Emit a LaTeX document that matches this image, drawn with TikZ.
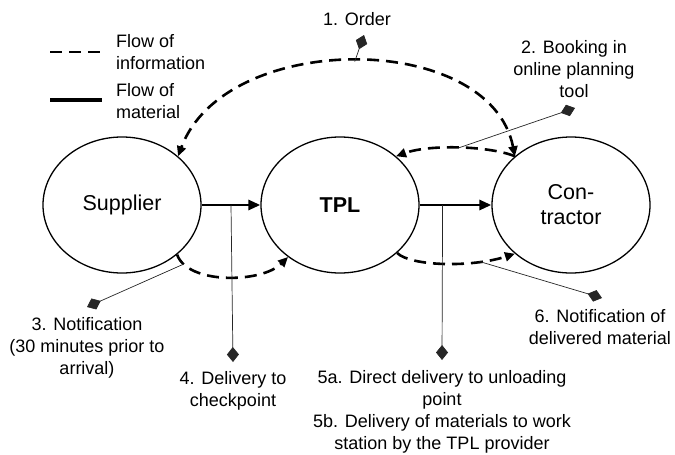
\documentclass[tikz,border=0pt]{standalone}
\usepackage{fontspec}
\setmainfont{Liberation Sans}
\usetikzlibrary{shapes.geometric,arrows.meta}
\begin{document}
\begin{tikzpicture}[x=1pt,y=-1pt,
  actor/.style={draw, ellipse, line width=1.3pt, minimum width=158pt, minimum height=136pt, inner sep=0pt, font=\fontsize{21.5}{25}\selectfont, align=center},
  info/.style={line width=2.6pt, dash pattern=on 12pt off 7pt},
  infotip/.style={-{Triangle[length=10pt,width=9pt]}},
  mat/.style={line width=2.8pt, -{Triangle[length=12pt,width=10pt]}},
  marker/.style={line width=0.7pt, black!85, -{Diamond[length=15pt,width=12pt]}},
  lbl/.style={align=center, font=\fontsize{18}{22}\selectfont, inner sep=0pt}
]
\useasboundingbox (0,0) rectangle (675,455);

% actors
\node[actor] (sup) at (122,205) {Supplier};
\node[actor, font=\fontsize{21.5}{25}\selectfont\bfseries] (tpl) at (340,205) {TPL};
\node[actor] (con) at (571,205) {Con-\\tractor};

% legend
\coordinate (li1) at (50,52);
\coordinate (li2) at (102,52);
\coordinate (lm1) at (50,100);
\coordinate (lm2) at (102,100);
\draw[info] (li1) -- (li2);
\draw[line width=3.5pt] (lm1) -- (lm2);
\node[lbl, align=left, anchor=west] (lgi) at (116,52) {Flow of\\information};
\node[lbl, align=left, anchor=west] (lgm) at (116,101) {Flow of\\material};

% material flow
\draw[mat] (sup.east) -- coordinate[pos=0.5] (m4) (tpl.west);
\draw[mat] (tpl.east) -- coordinate[pos=0.32] (m5) (con.west);

% information flows
\draw[info, {Triangle[length=10pt,width=9pt]}-{Triangle[length=10pt,width=9pt]}]
  (con.139) .. controls (490,30) and (225,30) .. coordinate[pos=0.5] (m1) (sup.41);
\draw[info, infotip]
  (con.139) .. controls (490,146) and (430,144) .. coordinate[pos=0.5] (m2) (tpl.41);
\draw[info, infotip]
  (sup.-42) .. controls (188,285) and (262,283) .. coordinate[pos=0.12] (m3) (tpl.225);
\draw[info, infotip]
  (tpl.-40) .. controls (410,266) and (470,268) .. coordinate[pos=0.75] (m6) (con.221);

% markers
\coordinate (d1) at (364,35);
\coordinate (d2) at (575,108);
\coordinate (d3) at (87,307);
\coordinate (d4) at (233,362);
\coordinate (d5) at (442,360);
\coordinate (d6) at (602,298);
\draw[marker] (m1) -- (d1);
\draw[marker] (m2) -- (d2);
\draw[marker] (m3) -- (d3);
\draw[marker] (m4) -- (d4);
\draw[marker] (m5) -- (d5);
\draw[marker] (m6) -- (d6);

% labels
\node[lbl] (t1) at (357,19) {1. Order};
\node[lbl] (t2) at (574,69) {2. Booking in\\online planning\\tool};
\node[lbl] (t3) at (87,348) {3. Notification\\(30 minutes prior to\\arrival)};
\node[lbl] (t4) at (233,391) {4. Delivery to\\checkpoint};
\node[lbl] (t5) at (442,412) {5a. Direct delivery to unloading\\point\\5b. Delivery of materials to work\\station by the TPL provider};
\node[lbl] (t6) at (600,327) {6. Notification of\\delivered material};
\end{tikzpicture}
\end{document}
